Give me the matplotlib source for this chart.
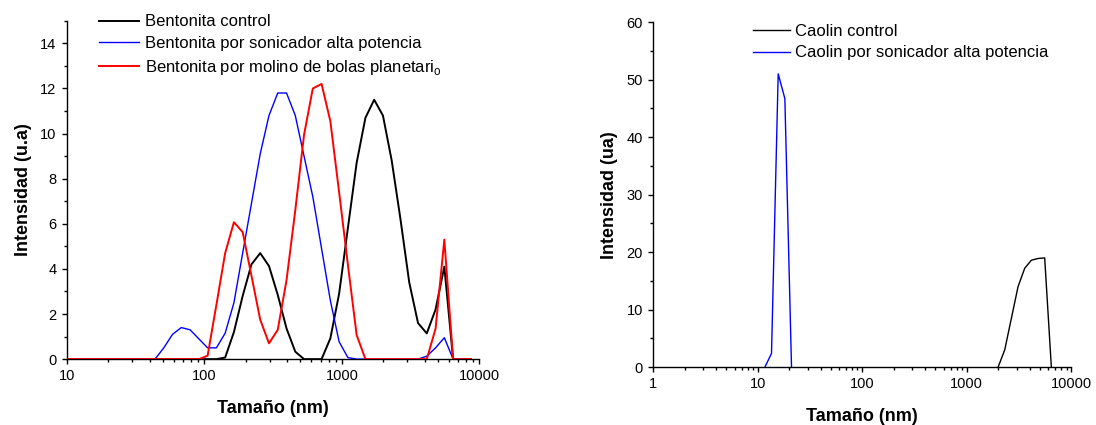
import matplotlib
matplotlib.use("Agg")
import matplotlib.pyplot as plt
from matplotlib.ticker import MultipleLocator, LogLocator, NullFormatter

plt.rcParams["font.family"] = ["Liberation Sans", "DejaVu Sans"]

# Malvern size classes (nm) and intensity (%) for the bentonite samples
sizes_bent = [10.10, 11.70, 13.54, 15.69, 18.17, 21.04, 24.36, 28.21, 32.67, 37.84,
              43.82, 50.75, 58.77, 68.06, 78.82, 91.28, 105.7, 122.4, 141.8, 164.2,
              190.1, 220.2, 255.0, 295.3, 342.0, 396.1, 458.7, 531.2, 615.1, 712.4,
              825.0, 955.4, 1106, 1281, 1484, 1718, 1990, 2305, 2669, 3091,
              3580, 4145, 4801, 5560, 6439, 7456, 8635]

bent_control = [0, 0, 0, 0, 0, 0, 0, 0, 0, 0,
                0, 0, 0, 0, 0, 0, 0, 0, 0.07, 1.2,
                2.8, 4.2, 4.7, 4.13, 2.85, 1.36, 0.33, 0, 0, 0,
                0.92, 2.9, 5.8, 8.7, 10.7, 11.5, 10.8, 8.8, 6.2, 3.4,
                1.6, 1.14, 2.2, 4.1, 0, 0, 0]

bent_sonic = [0, 0, 0, 0, 0, 0, 0, 0, 0, 0,
              0, 0.5, 1.1, 1.4, 1.3, 0.9, 0.5, 0.5, 1.15, 2.5,
              4.7, 6.9, 9.1, 10.8, 11.8, 11.8, 10.8, 9.0, 7.2, 4.9,
              2.6, 0.77, 0.07, 0, 0, 0, 0, 0, 0, 0,
              0, 0.13, 0.5, 0.95, 0, 0, 0]

bent_mill = [0, 0, 0, 0, 0, 0, 0, 0, 0, 0,
             0, 0, 0, 0, 0, 0, 0.15, 2.4, 4.7, 6.07,
             5.63, 3.7, 1.75, 0.7, 1.3, 3.5, 6.6, 9.95, 12.0, 12.2,
             10.55, 7.4, 4.2, 1.07, 0, 0, 0, 0, 0, 0,
             0, 0, 1.35, 5.3, 0, 0, 0]

# kaolin samples
sizes_cao_sonic = [11.70, 13.54, 15.69, 18.17, 21.04]
cao_sonic = [0, 2.4, 51.0, 46.7, 0]

sizes_cao_control = [1990, 2305, 2669, 3091, 3580, 4145, 4801, 5560, 6439]
cao_control = [0, 3.0, 8.5, 14.0, 17.2, 18.6, 18.9, 19.0, 0]

fig = plt.figure(figsize=(10.96, 4.25), dpi=100)
ax1 = fig.add_axes([0.0609, 0.155, 0.3765, 0.796])
ax2 = fig.add_axes([0.596, 0.136, 0.3815, 0.812])


def style_axis(ax, xticks, ymax, ymaj, ymin):
    ax.set_xscale("log")
    ax.set_xlim(xticks[0], xticks[-1])
    ax.set_ylim(0, ymax)
    ax.set_xticks(xticks)
    ax.set_xticklabels([str(t) for t in xticks])
    ax.xaxis.set_minor_locator(LogLocator(base=10, subs=range(2, 10)))
    ax.xaxis.set_minor_formatter(NullFormatter())
    ax.yaxis.set_major_locator(MultipleLocator(ymaj))
    ax.yaxis.set_minor_locator(MultipleLocator(ymin))
    for s in ["top", "right"]:
        ax.spines[s].set_visible(False)
    for s in ["left", "bottom"]:
        ax.spines[s].set_linewidth(1.0)
    ax.tick_params(which="major", direction="out", length=3.8, width=1.0,
                   labelsize=10.5, pad=3.5)
    ax.tick_params(which="minor", direction="out", length=2.0, width=1.0)
    ax.set_xlabel("Tamaño (nm)", fontsize=13, fontweight="bold", labelpad=12)


# left: bentonite
ax1.plot(sizes_bent, bent_control, color="black", lw=1.4,
         label="Bentonita control", zorder=3)
ax1.plot(sizes_bent, bent_sonic, color="#0000ff", lw=1.0,
         label="Bentonita por sonicador alta potencia", zorder=3)
ax1.plot(sizes_bent, bent_mill, color="#ff0000", lw=1.4,
         label="Bentonita por molino de bolas planetari$_\\mathregular{o}$", zorder=3)
style_axis(ax1, [10, 100, 1000, 10000], 15, 2, 1)
ax1.set_ylabel("Intensidad (u.a)", fontsize=13, fontweight="bold", labelpad=6)
ax1.legend(loc="upper left", bbox_to_anchor=(0.0903, 0.966), bbox_transform=fig.transFigure,
           frameon=False, fontsize=12, handlelength=2.4, handletextpad=0.36,
           labelspacing=0.4, borderpad=0, borderaxespad=0)

# right: kaolin
ax2.plot(sizes_cao_control, cao_control, color="black", lw=1.0, label="Caolin control")
ax2.plot(sizes_cao_sonic, cao_sonic, color="#0000ff", lw=1.0,
         label="Caolin por sonicador alta potencia")
style_axis(ax2, [1, 10, 100, 1000, 10000], 60, 10, 5)
ax2.set_ylabel("Intensidad (ua)", fontsize=13, fontweight="bold", labelpad=6)
ax2.legend(loc="upper left", bbox_to_anchor=(0.687, 0.944), bbox_transform=fig.transFigure,
           frameon=False, fontsize=12, handlelength=2.2, handletextpad=0.3,
           labelspacing=0.4, borderpad=0, borderaxespad=0)

fig.savefig("out.png", dpi=100)
